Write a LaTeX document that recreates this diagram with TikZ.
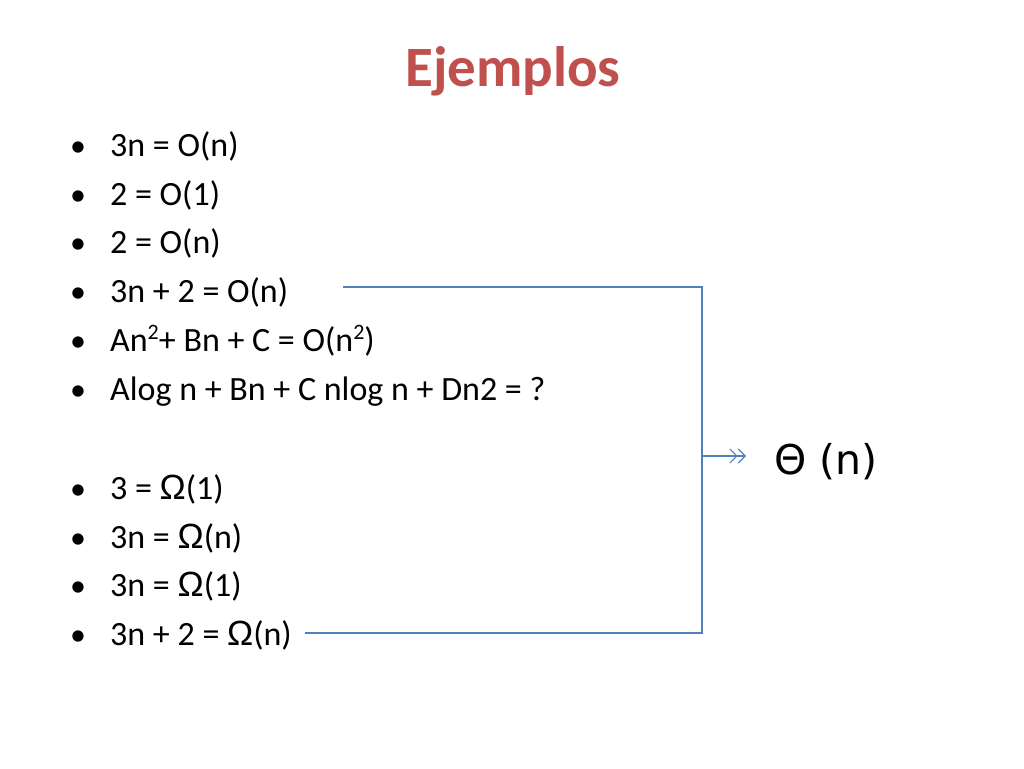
\documentclass[tikz,border=0pt]{standalone}
\usepackage{fontspec}
\setmainfont{Carlito}
\newfontfamily\thetafont{DejaVu Sans}
\newfontfamily\omegafont{Liberation Sans}
\usetikzlibrary{arrows.meta}
\definecolor{titlered}{HTML}{C0504D}
\definecolor{linkblue}{HTML}{4F81BD}
\newcommand{\supt}{\raisebox{0.33em}{\fontsize{22}{22}\selectfont 2}}
\newcommand{\om}{{\omegafont\fontsize{35}{40}\selectfont Ω}}
\begin{document}
\begin{tikzpicture}[x=1pt,y=-1pt,
  item/.style={anchor=base west,inner sep=0pt,font=\fontsize{34}{40}\selectfont},
  dot/.style={anchor=base,inner sep=0pt,font=\fontsize{32}{40}\selectfont},
  link/.style={draw=linkblue,line width=1.3pt}]
\useasboundingbox (0,0) rectangle (1024,768);
\fill[white] (0,0) rectangle (1024,768);
\node[inner sep=0pt,anchor=base,text=titlered,font=\fontsize{57}{60}\selectfont\bfseries] (title) at (513,86) {Ejemplos};
\foreach \y/\t [count=\i] in {156/{3n = O(n)},205/{2 = O(1)},253/{2 = O(n)},302/{3n + 2 = O(n)},351/{An\supt+ Bn + C = O(n\supt)},400/{Alog n + Bn + C nlog n + Dn2 = ?},499/{3 = \om(1)},548/{3n = \om(n)},596/{3n = \om(1)},645/{3n + 2 = \om(n)}}{
  \node[dot] (b\i) at (78,\y) {•};
  \node[item] (l\i) at (110,\y) {\t};
}
\node[inner sep=0pt,anchor=west,font=\thetafont\fontsize{41}{44}\selectfont] (theta) at (774,462) {Θ (n)};
\coordinate (t) at (343,287);
\coordinate (tr) at (702,287);
\coordinate (br) at (702,633);
\coordinate (b) at (305,633);
\coordinate (m) at (702,456);
\coordinate (me) at (746,456);
\draw[link] (t) -- (tr) -- (br) -- (b);
\draw[link,-{Straight Barb[length=7pt,width=14pt,line width=1.1pt]Straight Barb[length=7pt,width=14pt,line width=1.1pt]}] (m) -- (me);
\end{tikzpicture}
\end{document}
